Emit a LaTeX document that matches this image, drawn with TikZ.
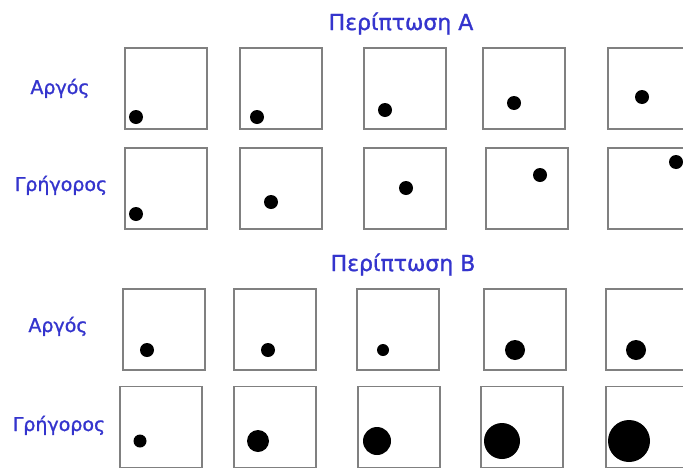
\documentclass[tikz,border=0pt]{standalone}
\usepackage{fontspec}
\newfontfamily\grfont[FakeBold=1.2]{DejaVu Sans}
\usepackage{xcolor}
\definecolor{lblblue}{RGB}{52,52,205}
\definecolor{framegray}{RGB}{128,128,128}

\begin{document}
\begin{tikzpicture}[
    x=1pt, y=-1pt,
    cell/.style={draw=framegray, line width=1.3pt, minimum width=82pt, minimum height=81pt, inner sep=0pt},
    ball/.style={circle, fill=black, inner sep=0pt},
    rowlabel/.style={text=lblblue, font=\grfont\fontsize{19}{22}\selectfont, anchor=base},
    title/.style={text=lblblue, font=\grfont\fontsize{22}{26}\selectfont, anchor=base}
]

\useasboundingbox (0,0) rectangle (683,469);
\clip (0,0) rectangle (683,469);

% titles and row labels
\node[title] (titleA) at (401,30) {Περίπτωση Α};
\node[title] (titleB) at (403,271) {Περίπτωση Β};

\node[rowlabel] (slowA) at (60,94) {Αργός};
\node[rowlabel] (fastA) at (61,191) {Γρήγορος};
\node[rowlabel] (slowB) at (58,332) {Αργός};
\node[rowlabel] (fastB) at (59,431) {Γρήγορος};

% case A, slow: box left x / ball x / ball y / ball size
\foreach \bx/\dx/\dy/\dd [count=\i] in {125/136/117/14, 240/257/117/14, 364/385/110/14, 483/514/103/14, 608/642/97/14}
{
    \node[cell] (boxA1-\i) at (\bx+41,88.5) {};
    \node[ball, minimum size=\dd pt] (ballA1-\i) at (\dx,\dy) {};
}

% case A, fast
\foreach \bx/\dx/\dy/\dd [count=\i] in {125/136/214/14, 240/271/202/14, 364/406/188/14, 486/540/175/14, 608/676/162/14}
{
    \node[cell] (boxA2-\i) at (\bx+41,188.5) {};
    \node[ball, minimum size=\dd pt] (ballA2-\i) at (\dx,\dy) {};
}

% case B, slow
\foreach \bx/\dx/\dy/\dd [count=\i] in {123/147/350/14, 234/268/350/14, 357/383/350/12, 484/515/350/20, 606/636/350/20}
{
    \node[cell] (boxB1-\i) at (\bx+41,329.5) {};
    \node[ball, minimum size=\dd pt] (ballB1-\i) at (\dx,\dy) {};
}

% case B, fast
\foreach \bx/\dx/\dy/\dd [count=\i] in {120/140/441/13, 234/258/441/22, 358/377/441/28, 481/502/441/36, 606/629/441/42}
{
    \node[cell] (boxB2-\i) at (\bx+41,427) {};
    \node[ball, minimum size=\dd pt] (ballB2-\i) at (\dx,\dy) {};
}

\end{tikzpicture}
\end{document}
